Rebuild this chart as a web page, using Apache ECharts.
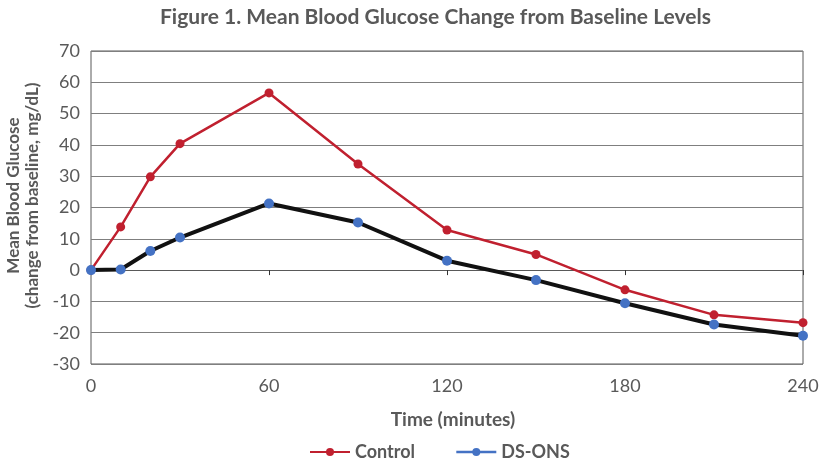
<!DOCTYPE html>
<html>
<head>
<meta charset="utf-8">
<script src="https://cdn.jsdelivr.net/npm/echarts@6/dist/echarts.min.js"></script>
<style>
  html, body { margin: 0; padding: 0; background: #fff; }
  #chart { width: 827px; height: 470px; }
</style>
</head>
<body>
<div id="chart"></div>
<script>
// minutes after intake
var times = [0, 10, 20, 30, 60, 90, 120, 150, 180, 210, 240];
// mean change from baseline, mg/dL
var controlValues = [0, 13.8, 29.8, 40.4, 56.6, 33.9, 12.8, 5, -6.3, -14.3, -16.8];
var dsonsValues = [0, 0.2, 6.1, 10.4, 21.3, 15.2, 3, -3.2, -10.6, -17.4, -21];
var xTicks = [0, 60, 120, 180, 240];
var yTicks = [-30, -20, -10, 0, 10, 20, 30, 40, 50, 60, 70];

var textColor = '#595959';
var font = 'Lato';

function pairs(xs, ys) {
  return xs.map(function (x, i) { return [x, ys[i]]; });
}

var chart = echarts.init(document.getElementById('chart'));
chart.setOption({
  backgroundColor: '#fff',
  animation: false,
  title: {
    text: 'Figure 1. Mean Blood Glucose Change from Baseline Levels',
    left: 155,
    top: 2,
    textStyle: { fontFamily: font, fontSize: 21, fontWeight: 'bold', color: textColor }
  },
  grid: {
    left: 91, right: 24, top: 51, bottom: 106,
    containLabel: false,
    outerBoundsMode: 'none',
    show: true, borderColor: '#595959', borderWidth: 1
  },
  legend: {
    bottom: 4,
    left: 304,
    itemWidth: 40,
    itemHeight: 10,
    itemGap: 40,
    textStyle: { fontFamily: font, fontSize: 18, fontWeight: 'bold', color: textColor },
    data: [
      { name: 'Control' },
      { name: 'DS-ONS', lineStyle: { color: '#4472C4', width: 2.5 } }
    ]
  },
  xAxis: [{
    type: 'value',
    min: xTicks[0],
    max: xTicks[xTicks.length - 1],
    interval: 60,
    name: 'Time (minutes)',
    nameLocation: 'middle',
    nameGap: 46,
    nameTextStyle: { fontFamily: font, fontSize: 19, fontWeight: 'bold', color: textColor, padding: [0, 0, 0, 12] },
    axisLine: { show: false, onZero: false },
    axisTick: { show: false },
    splitLine: { show: false },
    axisLabel: { fontFamily: font, fontSize: 18, color: textColor, margin: 13 }
  }, {
    type: 'value',
    position: 'bottom',
    min: xTicks[0],
    max: xTicks[xTicks.length - 1],
    interval: 60,
    axisLine: { show: true, onZero: true, lineStyle: { color: '#595959', width: 1 } },
    axisTick: { show: true, length: 5, lineStyle: { color: '#333', width: 1 } },
    axisLabel: { show: false },
    splitLine: { show: false }
  }],
  yAxis: {
    type: 'value',
    min: yTicks[0],
    max: yTicks[yTicks.length - 1],
    interval: 10,
    name: 'Mean Blood Glucose\n(change from baseline, mg/dL)',
    nameLocation: 'middle',
    nameRotate: 90,
    nameGap: 41,
    nameTextStyle: {
      fontFamily: font, fontSize: 17, fontWeight: 'bold', color: textColor,
      lineHeight: 19, padding: [0, 0, 0, 24]
    },
    axisLine: { show: false },
    axisTick: { show: false },
    axisLabel: { fontFamily: font, fontSize: 18, color: textColor, margin: 11 },
    splitLine: { show: true, lineStyle: { color: '#7f7f7f', width: 1 } }
  },
  series: [{
    name: 'Control',
    type: 'line',
    data: pairs(times, controlValues),
    symbol: 'circle',
    symbolSize: 9,
    lineStyle: { color: '#C0202F', width: 2.5 },
    itemStyle: { color: '#C0202F' },
    z: 3
  }, {
    name: 'DS-ONS',
    type: 'line',
    data: pairs(times, dsonsValues),
    symbol: 'circle',
    symbolSize: 10,
    lineStyle: { color: '#111', width: 4 },
    itemStyle: { color: '#4472C4' },
    z: 4
  }]
});
</script>
</body>
</html>
